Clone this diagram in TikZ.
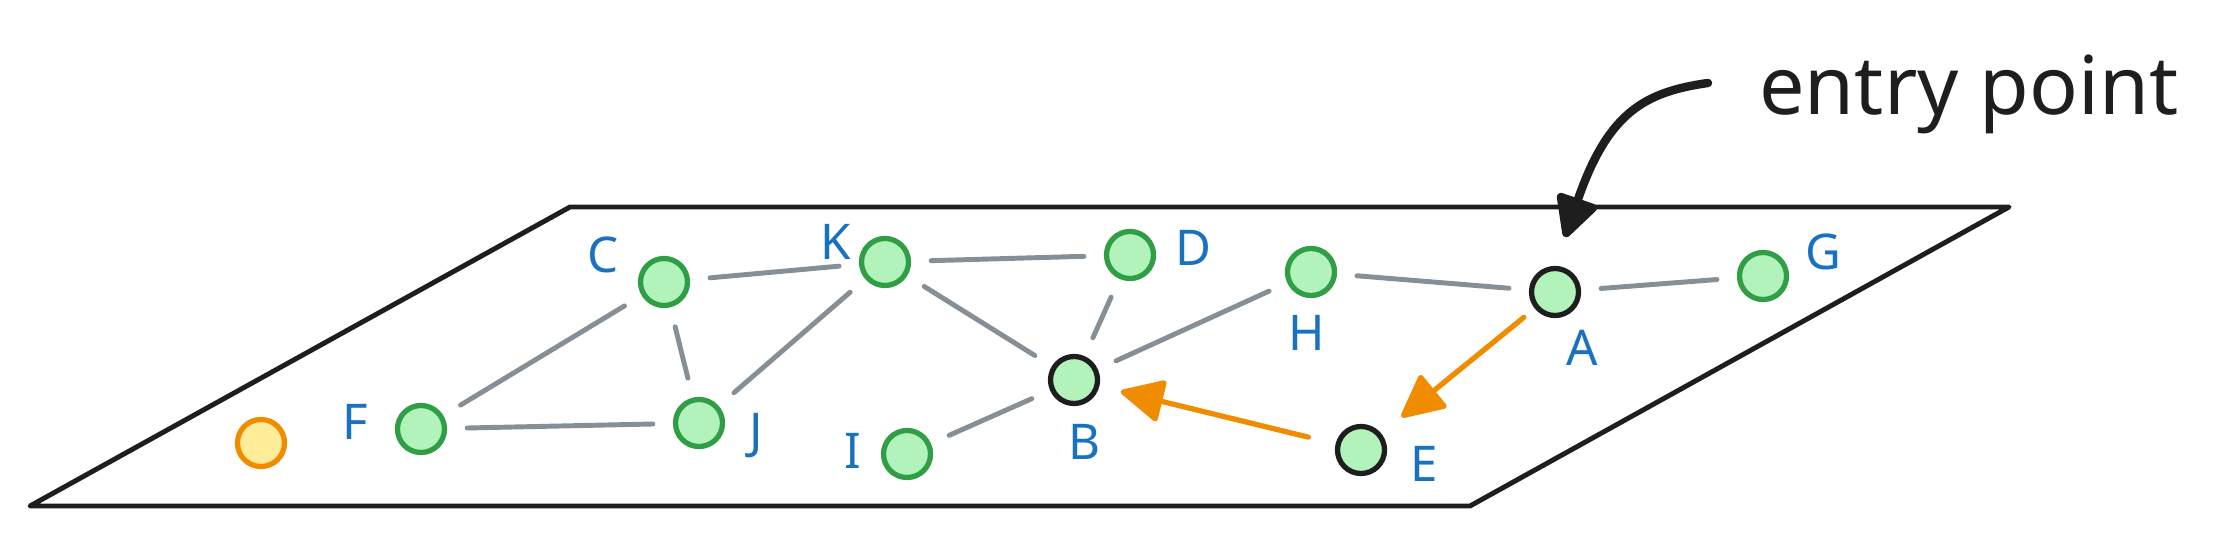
\documentclass[tikz,border=0pt]{standalone}
\usepackage{fontspec}
\setmainfont{Noto Sans}
\usepackage{tikz}
\usetikzlibrary{arrows.meta}
\definecolor{leafgreen}{HTML}{B2F2BB}
\definecolor{ringgreen}{HTML}{2F9E44}
\definecolor{inkblack}{HTML}{1E1E1E}
\definecolor{pathorange}{HTML}{F08C00}
\definecolor{softyellow}{HTML}{FFEC99}
\definecolor{labelblue}{HTML}{1971C2}
\definecolor{linkgray}{HTML}{868E96}
\tikzset{every picture/.style={line width=0.75pt}}

\begin{document}
\begin{tikzpicture}[x=0.01cm, y=-0.01cm,
  vtx/.style={circle, draw=ringgreen, fill=leafgreen, line width=1.5pt, minimum size=0.47cm, inner sep=0pt},
  seen/.style={vtx, draw=inkblack},
  lone/.style={vtx, draw=pathorange, fill=softyellow},
  lbl/.style={text=labelblue, font=\fontsize{14}{14}\selectfont, inner sep=0pt},
  link/.style={draw=linkgray, line width=1.4pt, line cap=round, shorten >=0.2cm, shorten <=0.2cm},
  walk/.style={draw=pathorange, line width=1.5pt, line cap=round, -{Triangle[round, length=0.46cm, width=0.44cm]}},
  pointer/.style={draw=inkblack, line width=2.4pt, line cap=round, -{Triangle[round, length=0.46cm, width=0.45cm]}}]
\useasboundingbox (0,0) rectangle (2231,537);

% the layer
\draw[inkblack, line width=1.4pt, line join=round] (570,207) -- (2009,207) -- (1470,506) -- (30,506) -- cycle;

% vertices
\node[lone] (o) at (261,443) {};
\node[vtx]  (f) at (421,429) {};
\node[vtx]  (c) at (664,282) {};
\node[vtx]  (k) at (885,262) {};
\node[vtx]  (d) at (1130,255) {};
\node[vtx]  (h) at (1311,272) {};
\node[seen] (a) at (1555,292) {};
\node[vtx]  (g) at (1763,276) {};
\node[vtx]  (j) at (699,423) {};
\node[vtx]  (i) at (907,454) {};
\node[seen] (b) at (1074,380) {};
\node[seen] (e) at (1361,450) {};

% labels
\node[lbl] (lf) at (355,422) {F};
\node[lbl] (lc) at (603,255) {C};
\node[lbl] (lk) at (836,242) {K};
\node[lbl] (ld) at (1193,248) {D};
\node[lbl] (lh) at (1307,333) {H};
\node[lbl] (la) at (1582,348) {A};
\node[lbl] (lg) at (1823,252) {G};
\node[lbl] (lj) at (756,436) {J};
\node[lbl] (li) at (853,451) {I};
\node[lbl] (lb) at (1084,442) {B};
\node[lbl] (le) at (1424,464) {E};

% links
\foreach \u/\v in {c/k, k/d, c/f, c/j, k/j, k/b, f/j, i/b, d/b, h/b, h/a, a/g}
  \draw[link] (\u) -- (\v);

% search path
\draw[walk, shorten <=0.14cm, shorten >=0.26cm] (a) -- (e);
\draw[walk, shorten <=0.28cm, shorten >=0.22cm] (e) -- (b);

% entry point
\node[inkblack, font=\fontsize{23}{23}\selectfont, inner sep=0pt, anchor=base west] (entry) at (1758,115) {entry point};
\coordinate (tail) at ([xshift=-0.5cm, yshift=0.32cm]entry.base west);
\coordinate (tip) at (1565,237);
\draw[pointer] (tail) .. controls (1645,92) and (1608,112) .. (tip);
\end{tikzpicture}
\end{document}
